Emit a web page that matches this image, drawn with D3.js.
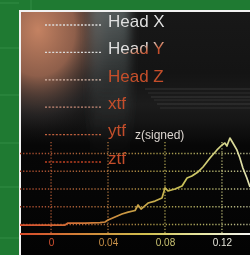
<!DOCTYPE html>
<html>
<head>
<meta charset="utf-8">
<script src="https://cdn.jsdelivr.net/npm/d3@7"></script>
<style>
  html, body { margin: 0; padding: 0; background: #1f7a32; }
  svg { display: block; }
</style>
</head>
<body>
<div id="chart"></div>
<script>
// data
const xVals = [-0.0218, -0.0077, 0.0098, 0.0119, 0.0239, 0.0344, 0.0379, 0.0400, 0.0449, 0.0498,
               0.0541, 0.0590, 0.0611, 0.0632, 0.0681, 0.0730, 0.0779, 0.0800, 0.0821, 0.0870,
               0.0920, 0.0955, 0.0989, 0.1032, 0.1067, 0.1116, 0.1165, 0.1200, 0.1221, 0.1235,
               0.1256, 0.1277, 0.1305, 0.1326, 0.1347, 0.1375, 0.1397];
const zVals = [-0.03, -0.03, -0.03, 0.08, 0.08, 0.11, 0.14, 0.25, 0.42, 0.59,
               0.70, 0.79, 1.10, 0.87, 1.21, 1.32, 1.49, 2.06, 1.89, 2.00,
               2.17, 2.62, 2.73, 2.96, 3.24, 3.75, 4.20, 4.48, 4.59, 4.42,
               4.87, 4.59, 4.20, 3.75, 3.18, 2.62, 2.11];
const xTicks = [0, 0.04, 0.08, 0.12];
const tickLabels = ["0", "0.04", "0.08", "0.12"];
const yGrid = [0, 1, 2, 3, 4];
const legendNames = ["Head X", "Head Y", "Head Z", "xtf", "ytf", "ztf"];
const legendDots = ["#dcdcdc", "#dcdcdc", "#d8b8a8", "#c88c78", "#c0603e", "#c04222"];

const W = 250, H = 255;
const svg = d3.select('#chart').append('svg').attr('width', W).attr('height', H);
const defs = svg.append('defs');

function linGrad(id, x1, y1, x2, y2, stops) {
  let g = defs.append('linearGradient').attr('id', id)
    .attr('gradientUnits', 'userSpaceOnUse')
    .attr('x1', x1).attr('y1', y1).attr('x2', x2).attr('y2', y2);
  stops.forEach(function(s){
    g.append('stop').attr('offset', s[0]).attr('stop-color', s[1]).attr('stop-opacity', s[2] == null ? 1 : s[2]);
  });
}

let x = d3.scaleLinear().domain([-0.0218, 0.1397]).range([20, W]);
let y = d3.scaleLinear().domain([0, 4]).range([224.5, 153.5]);
const axisY = 234;

linGrad('panelV', 0, 12, 0, H, [[0, '#181818'], [0.25, '#141414'], [0.38, '#1c1c1c'], [0.45, '#151515'], [0.55, '#070707'], [1, '#030303']]);
linGrad('streak', 0, 12, 0, 160, [[0, '#7c8888', 0.6], [0.5, '#5a6464', 0.3], [1, '#404040', 0]]);
linGrad('gridGrad', 20, 0, W, 0, [[0, '#a8462c'], [0.35, '#a86a3a'], [0.6, '#a89a48'], [0.85, '#b0b06a'], [1, '#b8b890']]);
linGrad('lineGrad', 20, 0, W, 0, [[0, '#d8502e'], [0.3, '#d07a38'], [0.5, '#c8a046'], [0.7, '#c8c056'], [0.88, '#d4d488'], [1, '#e0e0b0']]);
linGrad('axisGrad', 20, 0, W, 0, [[0, '#d84a2a'], [0.3, '#d08a3a'], [0.55, '#d0c050'], [0.8, '#e8e8a8'], [1, '#f4f4f4']]);
linGrad('legendText', 131.4, 48.2, 134.6, 57.8, [[0, '#e0e0e0'], [0.5, '#d28c70'], [1, '#c44e2a']]);

let rg = defs.append('radialGradient').attr('id', 'warm')
  .attr('gradientUnits', 'userSpaceOnUse')
  .attr('cx', 38).attr('cy', 30).attr('r', 115)
  .attr('gradientTransform', 'translate(38,30) scale(0.8,1) translate(-38,-30)');
rg.append('stop').attr('offset', 0).attr('stop-color', '#c48262').attr('stop-opacity', 1);
rg.append('stop').attr('offset', 0.4).attr('stop-color', '#a46c54').attr('stop-opacity', 0.85);
rg.append('stop').attr('offset', 0.75).attr('stop-color', '#3a3434').attr('stop-opacity', 0.35);
rg.append('stop').attr('offset', 1).attr('stop-color', '#000').attr('stop-opacity', 0);

defs.append('filter').attr('id', 'soft')
  .attr('filterUnits', 'userSpaceOnUse').attr('x', 0).attr('y', 0).attr('width', W).attr('height', H)
  .append('feGaussianBlur').attr('stdDeviation', 0.35);
defs.append('filter').attr('id', 'haze')
  .attr('x', -0.3).attr('y', -0.3).attr('width', 1.6).attr('height', 1.6)
  .append('feGaussianBlur').attr('stdDeviation', 5);
defs.append('clipPath').attr('id', 'panelClip').append('rect')
  .attr('x', 20).attr('y', 11).attr('width', W - 20).attr('height', H - 11);

// green backdrop lines
let bg = svg.append('g');
[3, 48, 95, 143, 187, 238].forEach(function(v){
  bg.append('line').attr('x1', 0).attr('x2', 19).attr('y1', v).attr('y2', v)
    .style('stroke', '#44a058').style('stroke-width', 1).style('opacity', 0.5);
});
bg.append('line').attr('x1', 31).attr('x2', 31).attr('y1', 0).attr('y2', 10)
  .style('stroke', '#44a058').style('opacity', 0.5);

// panel
let panel = svg.append('g').attr('clip-path', 'url(#panelClip)');
panel.append('rect').attr('x', 20).attr('y', 11).attr('width', W - 20).attr('height', H - 11).style('fill', 'url(#panelV)');
panel.append('rect').attr('x', 20).attr('y', 11).attr('width', W - 20).attr('height', H - 11).style('fill', 'url(#warm)');
let haze = panel.append('g').attr('filter', 'url(#haze)');
haze.append('rect').attr('x', 90).attr('y', 5).attr('width', 40).attr('height', 150).style('fill', 'url(#streak)');
let streaks = panel.append('g').attr('filter', 'url(#soft)');
[89, 93, 97, 100, 104, 108].forEach(function(v, i){
  streaks.append('line').attr('x1', 145 + i * 3).attr('x2', W).attr('y1', v).attr('y2', v)
    .style('stroke', i % 2 ? '#5a5a5a' : '#7a7a7a').style('stroke-width', 1.2).style('opacity', 0.3);
});
svg.append('path').attr('d', 'M20,' + H + 'V11H' + W)
  .style('fill', 'none').style('stroke', '#f2f2f2').style('stroke-width', 2);

let plot = svg.append('g').attr('filter', 'url(#soft)');

// legend (no group transforms so the text gradient stays in page space)
let legY = function(i){ return 25 + i * 27.4; };
plot.append('g').selectAll('line').data(legendNames).enter().append('line')
  .attr('x1', 45).attr('x2', 101)
  .attr('y1', function(d, i){ return legY(i); }).attr('y2', function(d, i){ return legY(i); })
  .style('stroke', function(d, i){ return legendDots[i]; })
  .style('stroke-width', 1.3).style('stroke-dasharray', '2,1.6');
plot.append('g').selectAll('text').data(legendNames).enter().append('text')
  .attr('x', 108).attr('y', function(d, i){ return legY(i) + 1.8; })
  .text(function(d){ return d; })
  .style('fill', 'url(#legendText)').style('font-family', 'Liberation Sans, Arial, sans-serif')
  .style('font-size', '17px');

// grid
plot.append('g').selectAll('line').data(yGrid).enter().append('line')
  .attr('x1', 20).attr('x2', W).attr('y1', function(d){ return y(d); }).attr('y2', function(d){ return y(d); })
  .style('stroke', 'url(#gridGrad)').style('stroke-width', 1.3).style('stroke-dasharray', '1.3,1.8');
plot.append('g').selectAll('line').data(xTicks).enter().append('line')
  .attr('x1', function(d){ return x(d); }).attr('x2', function(d){ return x(d); })
  .attr('y1', y(4.65)).attr('y2', axisY)
  .style('stroke', 'url(#gridGrad)').style('stroke-width', 1.3).style('stroke-dasharray', '1.3,1.8');

plot.append('text').attr('x', 135).attr('y', 139).text('z(signed)')
  .style('fill', '#dcd6d0').style('font-family', 'Liberation Sans, Arial, sans-serif').style('font-size', '12px');

// curve
let line = d3.line().x(function(d){ return x(d[0]); }).y(function(d){ return y(d[1]); });
plot.append('path').datum(d3.zip(xVals, zVals)).attr('d', line)
  .style('fill', 'none').style('stroke', 'url(#lineGrad)').style('stroke-width', 1.7)
  .style('stroke-linejoin', 'round');

// x axis
let tickColor = d3.scaleLinear().domain(xTicks).range(['#d45232', '#c89048', '#c8c070', '#e4e4d8']);
let xAxis = d3.axisBottom(x).tickValues(xTicks)
  .tickFormat(function(d, i){ return tickLabels[i]; })
  .tickSize(0).tickSizeOuter(0).tickPadding(5);
let gx = plot.append('g').attr('transform', 'translate(0,' + axisY + ')').call(xAxis);
gx.select('.domain').remove();
gx.append('line').attr('x1', x.range()[0]).attr('x2', x.range()[1]).attr('y1', 0).attr('y2', 0)
  .attr('stroke', 'url(#axisGrad)').attr('stroke-width', 2);
gx.selectAll('text').style('fill', function(d){ return tickColor(d); })
  .style('font-family', 'Liberation Sans, Arial, sans-serif').style('font-size', '10px');
</script>
</body>
</html>
